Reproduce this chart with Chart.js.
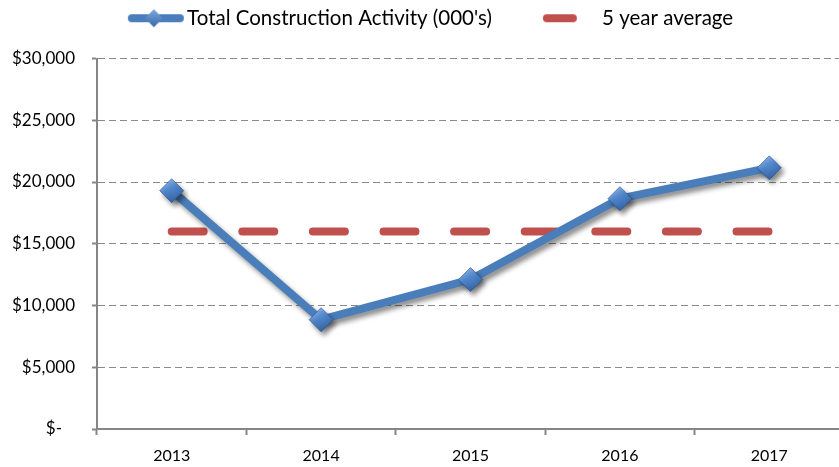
<!DOCTYPE html>
<html>
<head>
<meta charset="utf-8">
<script src="https://cdn.jsdelivr.net/npm/chart.js@4/dist/chart.umd.min.js"></script>
<style>
  html, body { margin: 0; padding: 0; background: #fff; overflow: hidden; }
  #wrap { width: 857px; height: 467px; }
</style>
</head>
<body>
<div id="wrap"><canvas id="c" width="857" height="467"></canvas></div>
<script>
const categories = ['2013', '2014', '2015', '2016', '2017'];
const activityValues = [19300, 8850, 12100, 18650, 21150];
const averageValues = [16000, 16000, 16000, 16000, 16000];
const seriesNames = ["Total Construction Activity (000's)", '5 year average'];
const yTicks = [0, 5000, 10000, 15000, 20000, 25000, 30000];

const BLUE = '#4A7EBB';
const RED = '#C0504D';
const FONT = 'Lato, "Open Sans", sans-serif';

function diamondPath(ctx, x, y, r) {
  ctx.beginPath();
  ctx.moveTo(x, y - r); ctx.lineTo(x + r, y); ctx.lineTo(x, y + r); ctx.lineTo(x - r, y);
  ctx.closePath();
}

const blueImg = document.createElement('canvas');
blueImg.width = 68; blueImg.height = 24;
(function () {
  const c = blueImg.getContext('2d');
  c.strokeStyle = BLUE; c.lineWidth = 8; c.lineCap = 'round';
  c.beginPath(); c.moveTo(14, 12); c.lineTo(62, 12); c.stroke();
  const g = c.createLinearGradient(0, 3, 0, 21);
  g.addColorStop(0, '#79A8E0'); g.addColorStop(1, '#3A69A8');
  c.fillStyle = g; diamondPath(c, 36, 12, 9); c.fill();
})();
const redImg = document.createElement('canvas');
redImg.width = 68; redImg.height = 24;
(function () {
  const c = redImg.getContext('2d');
  c.strokeStyle = RED; c.lineWidth = 8; c.lineCap = 'round';
  c.beginPath(); c.moveTo(14, 12); c.lineTo(40, 12); c.stroke();
})();

function pointFill(ctx) {
  const chart = ctx.chart;
  const xs = chart.scales.x, ys = chart.scales.y;
  if (!xs || !ys || ctx.dataIndex === undefined || ctx.parsed === undefined) return BLUE;
  const px = xs.getPixelForValue(ctx.dataIndex);
  const py = ys.getPixelForValue(activityValues[ctx.dataIndex]);
  if (!isFinite(px) || !isFinite(py)) return BLUE;
  const g = chart.ctx.createLinearGradient(px - 6, py - 12, px + 6, py + 12);
  g.addColorStop(0, '#8DB8EC');
  g.addColorStop(0.45, '#4F86CC');
  g.addColorStop(1, '#2F5D9C');
  return g;
}

const shadowPlugin = {
  id: 'shadowPlugin',
  beforeDatasetDraw(chart, args) {
    if (args.index === 0) {
      const ctx = chart.ctx;
      ctx.save();
      ctx.shadowColor = 'rgba(0,0,0,0.45)';
      ctx.shadowBlur = 5;
      ctx.shadowOffsetX = 3;
      ctx.shadowOffsetY = 4;
    }
  },
  afterDatasetDraw(chart, args) {
    if (args.index === 0) chart.ctx.restore();
  }
};

const legendSpacer = {
  id: 'legendSpacer',
  beforeInit(chart) {
    const orig = chart.legend.fit;
    chart.legend.fit = function () {
      orig.call(this);
      this.height += 20;
    };
  },
  afterLayout(chart) {
    chart.legend.left += 2;
    chart.legend.right += 2;
  }
};

new Chart(document.getElementById('c'), {
  type: 'line',
  data: {
    labels: categories,
    datasets: [
      {
        label: seriesNames[0],
        data: activityValues,
        borderColor: BLUE,
        borderWidth: 8,
        tension: 0,
        pointStyle: 'rectRot',
        pointRadius: 12,
        pointHoverRadius: 12,
        pointBackgroundColor: pointFill,
        pointBorderColor: 'rgba(40,80,140,0.6)',
        pointBorderWidth: 1,
        fill: false
      },
      {
        label: seriesNames[1],
        data: averageValues,
        borderColor: RED,
        borderWidth: 8,
        borderDash: [32, 38.6],
        borderCapStyle: 'round',
        pointRadius: 0,
        pointHoverRadius: 0,
        fill: false
      }
    ]
  },
  options: {
    responsive: false,
    devicePixelRatio: 1,
    animation: false,
    layout: { padding: { left: 0, right: 1, top: 0, bottom: 0 } },
    plugins: {
      tooltip: { enabled: false },
      legend: {
        position: 'top',
        align: 'center',
        labels: {
          usePointStyle: true,
          pointStyleWidth: 50,
          padding: 8,
          color: '#000',
          font: { family: FONT, size: 20.5 },
          generateLabels() {
            return [
              { text: seriesNames[0] + '        ', pointStyle: blueImg, fillStyle: BLUE, strokeStyle: BLUE, lineWidth: 0, hidden: false, datasetIndex: 0 },
              { text: seriesNames[1], pointStyle: redImg, fillStyle: RED, strokeStyle: RED, lineWidth: 0, hidden: false, datasetIndex: 1 }
            ];
          }
        }
      }
    },
    scales: {
      x: {
        type: 'category',
        offset: true,
        grid: {
          display: true,
          drawOnChartArea: false,
          drawTicks: true,
          tickLength: 6,
          tickColor: '#868686',
          tickWidth: 2,
          offset: true
        },
        border: { display: true, color: '#868686', width: 2 },
        ticks: {
          color: '#000',
          font: { family: FONT, size: 16 },
          padding: 11,
          maxRotation: 0
        },
        afterFit(s) { s.height = 38; }
      },
      y: {
        min: 0,
        max: 30000,
        afterBuildTicks(s) { s.ticks = yTicks.map(v => ({ value: v })); },
        grid: {
          color: '#8a8a8a',
          lineWidth: 1,
          tickLength: 5,
          tickColor: '#868686',
          tickWidth: 2,
          tickBorderDash: []
        },
        border: { display: true, color: '#868686', width: 2, dash: [7, 4] },
        ticks: {
          color: '#000',
          font: { family: FONT, size: 17 },
          padding: 17,
          callback(v) { return v === 0 ? '$-   ' : '$' + v.toLocaleString('en-US'); }
        },
        afterFit(s) { s.width = 97; }
      }
    }
  },
  plugins: [shadowPlugin, legendSpacer]
});
</script>
</body>
</html>
